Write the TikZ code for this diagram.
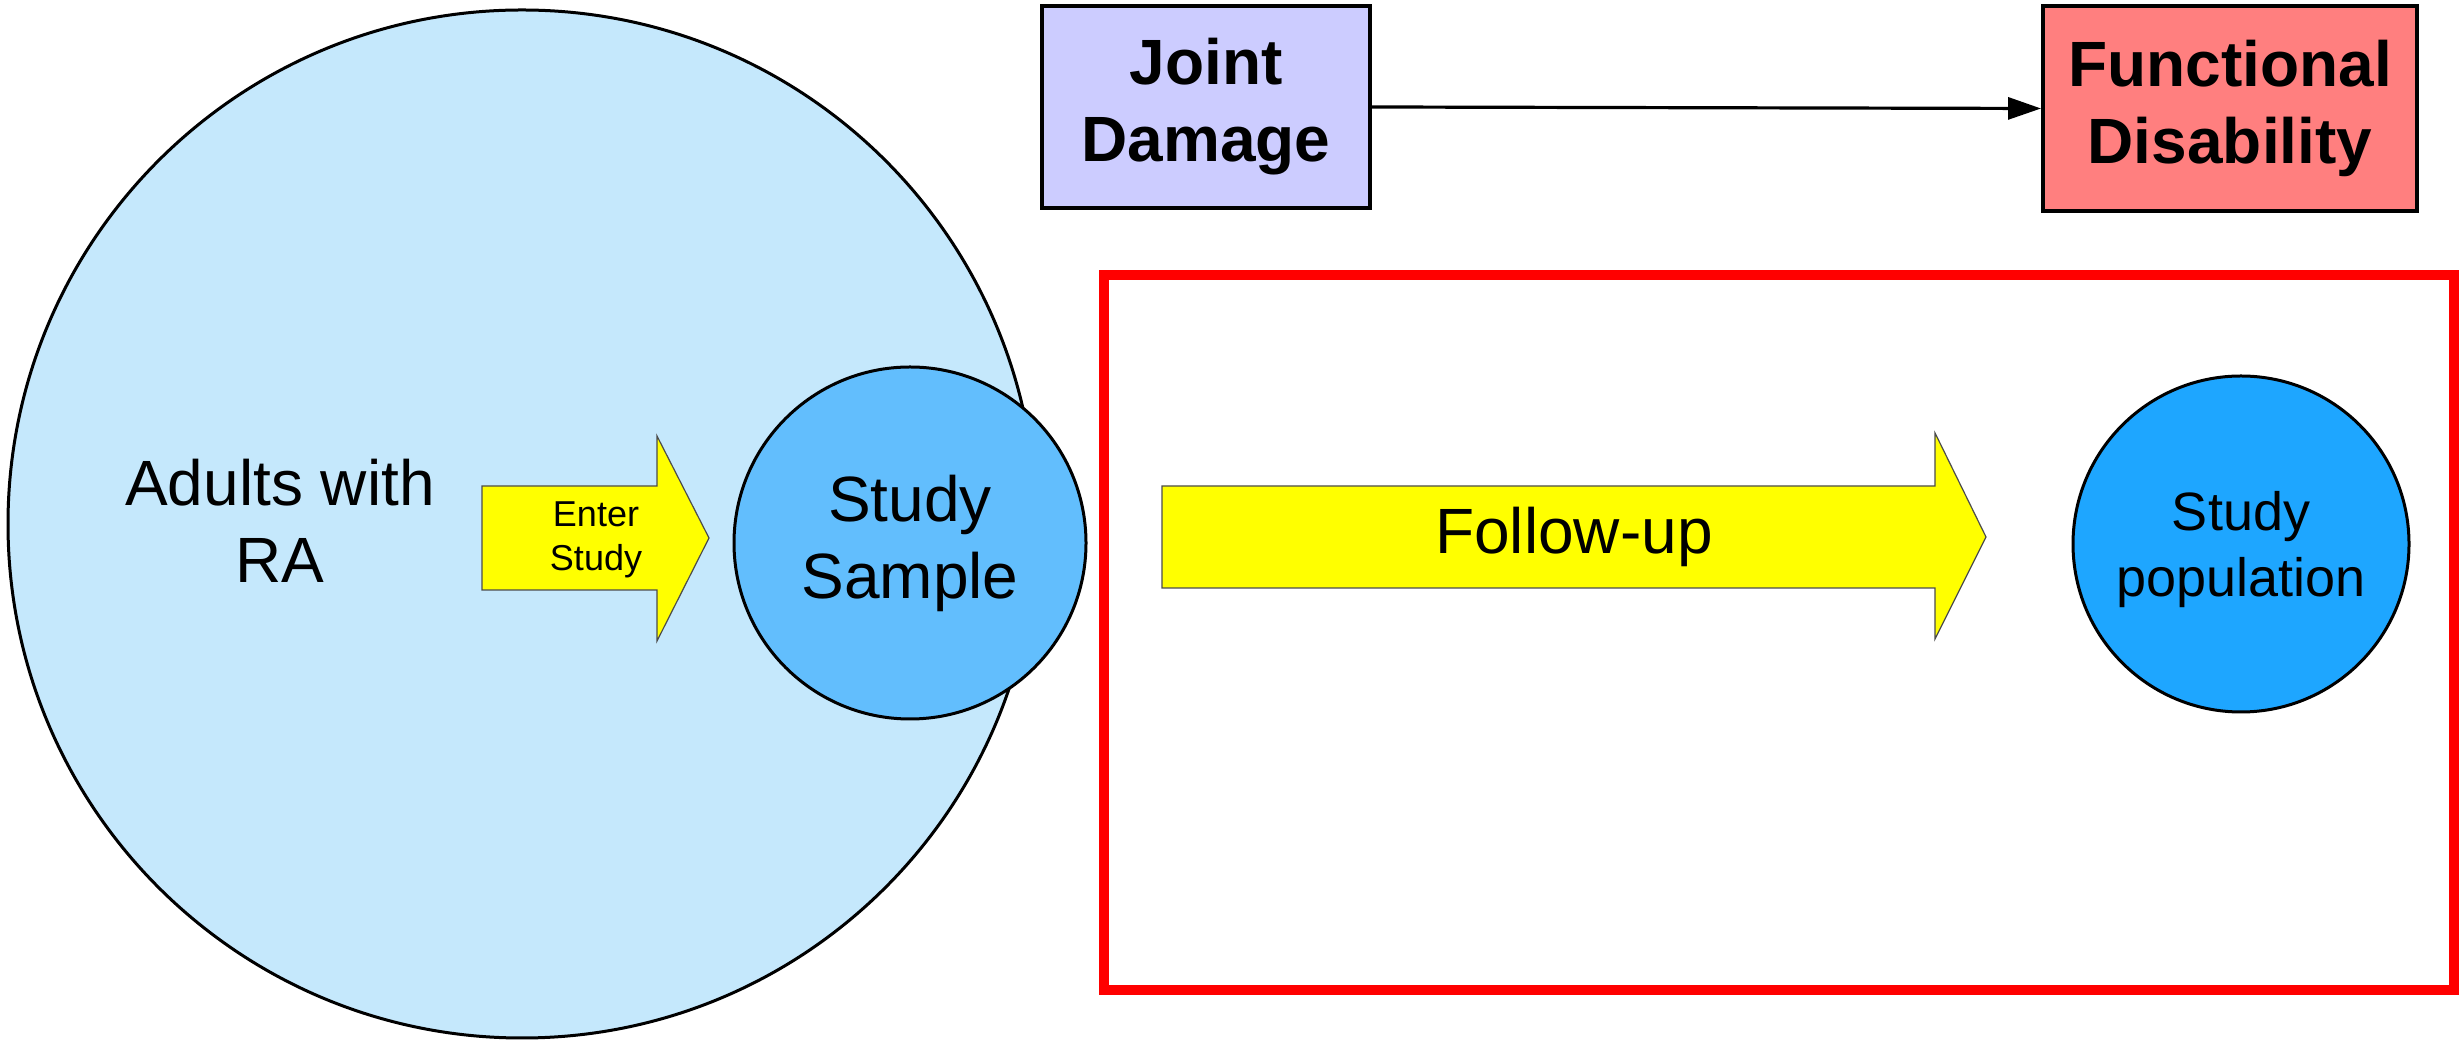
\documentclass[tikz,border=0pt]{standalone}
\usepackage{fontspec}
\setmainfont{Liberation Sans}
\usetikzlibrary{arrows.meta}
\definecolor{bigblue}{RGB}{197,232,252}
\definecolor{sampleblue}{RGB}{98,190,253}
\definecolor{popblue}{RGB}{30,166,255}
\definecolor{jdfill}{RGB}{204,204,255}
\definecolor{fdfill}{RGB}{255,127,127}
\definecolor{arrowyellow}{RGB}{255,255,0}
\begin{document}
\begin{tikzpicture}[x=0.25pt,y=-0.25pt,
  bigtext/.style={font=\fontsize{16}{19.25}\selectfont, align=center},
  boldtext/.style={font=\fontsize{16}{19.25}\selectfont\bfseries, align=center},
  blockarrow/.style={fill=arrowyellow, draw=black!70, line width=0.3pt},
  circ/.style={draw=black, line width=0.75pt},
  box/.style={draw=black, line width=1pt, inner sep=0pt}
]
\useasboundingbox (0,0) rectangle (2461,1045);
\fill[white] (0,0) rectangle (2461,1045);

% big circle
\node[circ, fill=bigblue, circle, minimum size=257pt, inner sep=0pt] (adults) at (522,524) {};
\node[bigtext] (adultstext) at (280,521) {Adults with\\RA};

% Enter Study arrow
\draw[blockarrow] (482,486) -- (657,486) -- (657,436) -- (709,538) -- (657,641) -- (657,590) -- (482,590) -- cycle;
\node[font=\fontsize{9}{11}\selectfont, align=center] (enter) at (596,540) {Enter\\Study};

% study sample
\node[circ, fill=sampleblue, circle, minimum size=88pt, inner sep=0pt, bigtext] (sample) at (910,543) {Study\\Sample};

% red frame
\node[draw=red, line width=2.5pt, minimum width=337.5pt, minimum height=178.75pt, inner sep=0pt] (frame) at (1779,632.5) {};

% follow-up arrow
\draw[blockarrow] (1162,486) -- (1935,486) -- (1935,433) -- (1986,537) -- (1935,639) -- (1935,588) -- (1162,588) -- cycle;
\node[bigtext] (follow) at (1574,537) {Follow-up};

% study population
\node[circ, fill=popblue, circle, minimum size=84pt, inner sep=0pt] (pop) at (2241,544) {};
\node[font=\fontsize{13.5}{16.5}\selectfont, align=center] (poptext) at (2241,550) {Study\\population};

% top boxes
\node[box, fill=jdfill, minimum width=82pt, minimum height=50.5pt, boldtext] (jd) at (1206,107) {Joint\\Damage};
\node[box, fill=fdfill, minimum width=93.5pt, minimum height=51.25pt, boldtext] (fd) at (2230,108.5) {Functional\\Disability};

\draw[line width=0.8pt, -{Triangle[length=8.25pt,width=5.5pt]}] (jd.east) -- (fd.west);
\end{tikzpicture}
\end{document}
